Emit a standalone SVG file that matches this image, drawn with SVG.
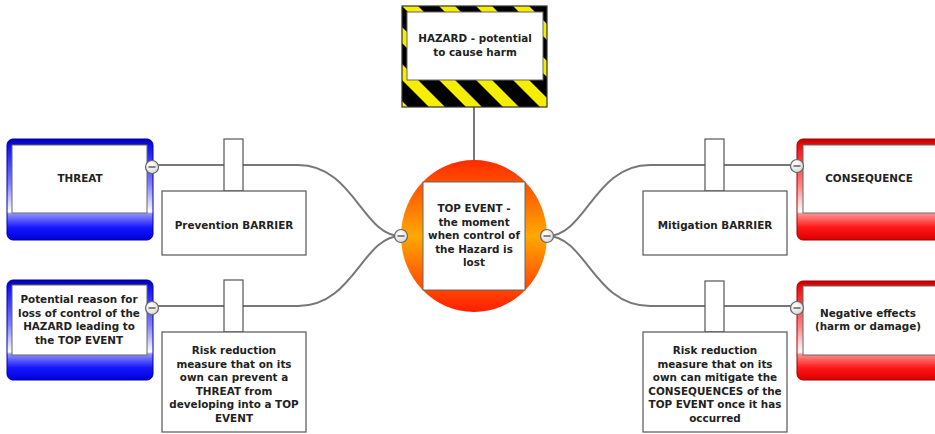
<svg xmlns="http://www.w3.org/2000/svg" width="935" height="434" viewBox="0 0 935 434">
<style>
text{font-family:"DejaVu Sans","Verdana",sans-serif;font-weight:bold;font-size:10.4px;fill:#222;text-anchor:middle}
.inner{fill:#fff;stroke:#666;stroke-width:1}
.box{fill:#fff;stroke:#555;stroke-width:1.2}
.conn{fill:none;stroke:#777;stroke-width:2}
.minus circle{fill:url(#gMinus);stroke:#666;stroke-width:1.2}
.minus line{stroke:#555;stroke-width:1.4}
.stripe{fill:#000}
</style>
<defs>
<linearGradient id="gBlue" x1="0" y1="0" x2="0" y2="1">
<stop offset="0" stop-color="#0000a8"/>
<stop offset="0.07" stop-color="#1010f0"/>
<stop offset="0.45" stop-color="#8080ff"/>
<stop offset="0.72" stop-color="#ffffff"/>
<stop offset="0.74" stop-color="#9090ff"/>
<stop offset="0.88" stop-color="#1515ff"/>
<stop offset="1" stop-color="#0000d8"/>
</linearGradient>
<linearGradient id="gRed" x1="0" y1="0" x2="0" y2="1">
<stop offset="0" stop-color="#c00000"/>
<stop offset="0.07" stop-color="#f01010"/>
<stop offset="0.45" stop-color="#ff8080"/>
<stop offset="0.72" stop-color="#ffffff"/>
<stop offset="0.74" stop-color="#ff9090"/>
<stop offset="0.88" stop-color="#ff1515"/>
<stop offset="1" stop-color="#d80000"/>
</linearGradient>
<linearGradient id="gTop" x1="0" y1="0" x2="0" y2="1">
<stop offset="0" stop-color="#ff2a00"/>
<stop offset="0.5" stop-color="#ffa800"/>
<stop offset="1" stop-color="#ff1e00"/>
</linearGradient>
<radialGradient id="gMinus" cx="0.4" cy="0.35" r="0.7">
<stop offset="0" stop-color="#ffffff"/>
<stop offset="1" stop-color="#d8d8d8"/>
</radialGradient>
<clipPath id="hazClip">
<rect x="402" y="6" width="145" height="101"/>
</clipPath>
</defs>

<g id="connectors">
<line class="conn" x1="474" y1="107" x2="474" y2="161"/>
<path class="conn" d="M401,236 C362,236 354,165 298,165 H152"/>
<path class="conn" d="M401,236 C362,236 354,306 298,306 H152"/>
<path class="conn" d="M547,236 C586,236 594,165 650,165 H797"/>
<path class="conn" d="M547,236 C586,236 594,306 650,306 H797"/>
</g>

<g id="hazard">
<rect x="402" y="6" width="145" height="101" fill="#f6ee00"/>
<g clip-path="url(#hazClip)">
<polygon class="stripe" points="270,6 291,6 392,107 371,107"/>
<polygon class="stripe" points="307,6 328,6 429,107 408,107"/>
<polygon class="stripe" points="344,6 365,6 466,107 445,107"/>
<polygon class="stripe" points="381,6 402,6 503,107 482,107"/>
<polygon class="stripe" points="418,6 439,6 540,107 519,107"/>
<polygon class="stripe" points="455,6 476,6 577,107 556,107"/>
<polygon class="stripe" points="492,6 513,6 614,107 593,107"/>
<polygon class="stripe" points="529,6 550,6 651,107 630,107"/>
</g>
<rect x="402" y="6" width="145" height="101" fill="none" stroke="#333" stroke-width="1.2"/>
<rect class="inner" x="407" y="12" width="136" height="68" stroke="#444"/>
<text x="475" y="42">HAZARD - potential</text>
<text x="475" y="56">to cause harm</text>
</g>

<g id="top-event">
<ellipse cx="474" cy="236" rx="73" ry="76" fill="url(#gTop)"/>
<rect class="inner" x="423" y="182" width="102" height="108" stroke="#7a2a00"/>
<text x="474" y="212">TOP EVENT -</text>
<text x="474" y="225.5">the moment</text>
<text x="474" y="239">when control of</text>
<text x="474" y="252.5">the Hazard is</text>
<text x="474" y="266">lost</text>
</g>

<g id="threat">
<rect x="7" y="139" width="146" height="101" rx="6" fill="url(#gBlue)" stroke="#0000a0" stroke-width="1"/>
<rect class="inner" x="12" y="145" width="135" height="68"/>
<text x="80" y="182">THREAT</text>
</g>

<g id="threat-desc">
<rect x="7" y="280" width="146" height="100" rx="6" fill="url(#gBlue)" stroke="#0000a0" stroke-width="1"/>
<rect class="inner" x="12" y="285" width="135" height="70"/>
<text x="79" y="303">Potential reason for</text>
<text x="79" y="316.5">loss of control of the</text>
<text x="79" y="330">HAZARD leading to</text>
<text x="79" y="343.5">the TOP EVENT</text>
</g>

<g id="prevention-barrier">
<rect class="box" x="224" y="139" width="19" height="52"/>
<rect class="box" x="162" y="191" width="144" height="64"/>
<text x="234" y="229">Prevention BARRIER</text>
</g>

<g id="prevention-desc">
<rect class="box" x="224" y="280" width="19" height="52"/>
<rect class="box" x="162" y="332" width="144" height="100"/>
<text x="234" y="354">Risk reduction</text>
<text x="234" y="367.5">measure that on its</text>
<text x="234" y="381">own can prevent a</text>
<text x="234" y="394.5">THREAT from</text>
<text x="234" y="408">developing into a TOP</text>
<text x="234" y="421.5">EVENT</text>
</g>

<g id="mitigation-barrier">
<rect class="box" x="705" y="139" width="19" height="52"/>
<rect class="box" x="643" y="191" width="144" height="64"/>
<text x="715" y="229">Mitigation BARRIER</text>
</g>

<g id="mitigation-desc">
<rect class="box" x="705" y="281" width="19" height="51"/>
<rect class="box" x="643" y="332" width="144" height="100"/>
<text x="715" y="354">Risk reduction</text>
<text x="715" y="367.5">measure that on its</text>
<text x="715" y="381">own can mitigate the</text>
<text x="715" y="394.5">CONSEQUENCES of the</text>
<text x="715" y="408">TOP EVENT once it has</text>
<text x="715" y="421.5">occurred</text>
</g>

<g id="consequence">
<rect x="797" y="139" width="146" height="101" rx="6" fill="url(#gRed)" stroke="#a00000" stroke-width="1"/>
<rect class="inner" x="803" y="145" width="135" height="68"/>
<text x="869" y="182">CONSEQUENCE</text>
</g>

<g id="consequence-desc">
<rect x="797" y="281" width="146" height="99" rx="6" fill="url(#gRed)" stroke="#a00000" stroke-width="1"/>
<rect class="inner" x="803" y="286" width="135" height="69"/>
<text x="868" y="317">Negative effects</text>
<text x="868" y="330">(harm or damage)</text>
</g>

<g id="toggles">
<g class="minus"><circle cx="152" cy="167" r="6.5"/><line x1="148.5" y1="167" x2="155.5" y2="167"/></g>
<g class="minus"><circle cx="152" cy="308" r="6.5"/><line x1="148.5" y1="308" x2="155.5" y2="308"/></g>
<g class="minus"><circle cx="401" cy="236" r="6.5"/><line x1="397.5" y1="236" x2="404.5" y2="236"/></g>
<g class="minus"><circle cx="547" cy="236" r="6.5"/><line x1="543.5" y1="236" x2="550.5" y2="236"/></g>
<g class="minus"><circle cx="797" cy="166" r="6.5"/><line x1="793.5" y1="166" x2="800.5" y2="166"/></g>
<g class="minus"><circle cx="797" cy="308" r="6.5"/><line x1="793.5" y1="308" x2="800.5" y2="308"/></g>
</g>
</svg>
